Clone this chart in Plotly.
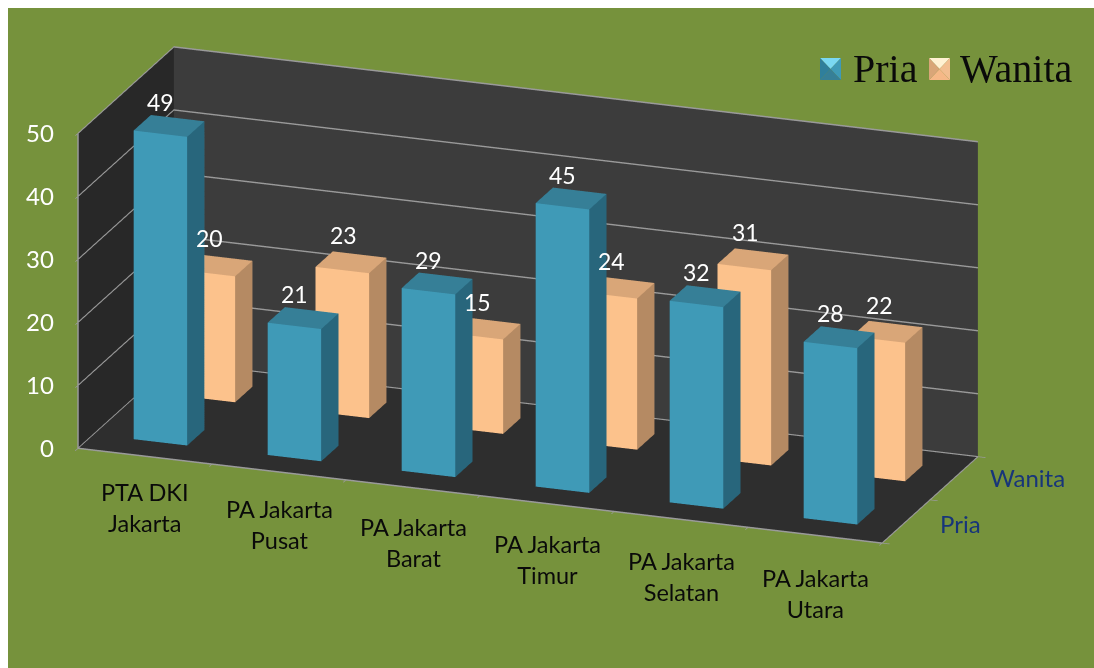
import plotly.graph_objects as go

categories = ["PTA DKI<br>Jakarta", "PA Jakarta<br>Pusat", "PA Jakarta<br>Barat",
              "PA Jakarta<br>Timur", "PA Jakarta<br>Selatan", "PA Jakarta<br>Utara"]
series_names = ["Pria", "Wanita"]
pria = [49, 21, 29, 45, 32, 28]
wanita = [20, 23, 15, 24, 31, 22]
z_ticks = [0, 10, 20, 30, 40, 50]

BAR_W = 0.40
BAR_D = 0.36
GREEN = "#76923C"
FONT = "Lato"
FIG_W, FIG_H = 1086, 660


def box(ix, iy, h, front, side, top, name):
    x0, x1 = ix - BAR_W / 2, ix + BAR_W / 2
    y0, y1 = iy - BAR_D / 2, iy + BAR_D / 2
    xs = [x0, x1, x1, x0, x0, x1, x1, x0]
    ys = [y0, y0, y1, y1, y0, y0, y1, y1]
    zs = [0, 0, 0, 0, h, h, h, h]
    i = [0, 0, 1, 1, 4, 4, 3, 3, 0, 0, 2, 2]
    j = [1, 5, 2, 6, 5, 6, 0, 4, 1, 2, 3, 7]
    k = [5, 4, 6, 5, 6, 7, 4, 7, 2, 3, 7, 6]
    fc = [front, front, side, side, top, top, side, side, side, side, front, front]
    return go.Mesh3d(x=xs, y=ys, z=zs, i=i, j=j, k=k, facecolor=fc, flatshading=True,
                     lighting=dict(ambient=1, diffuse=0, specular=0, fresnel=0, roughness=1),
                     hoverinfo="skip", showlegend=False, name=name)


fig = go.Figure()
styles = [("#3F9AB7", "#28667C", "#367F97"), ("#FCC28C", "#B58A63", "#D9A678")]
for iy, (vals, st) in enumerate(zip([pria, wanita], styles)):
    for ix, v in enumerate(vals):
        fig.add_trace(box(ix, iy, v, *st, series_names[iy]))

ann = []
for ix, name in enumerate(categories):
    ann.append(dict(x=ix, y=-0.5, z=0, text=name, showarrow=False, yanchor="top", yshift=-20 - 1.3 * ix,
                    font=dict(family=FONT, size=23.5, color="#0a0a0a")))
label_shift = [(-9, 8), (-8, 11)]
for iy, vals in enumerate([pria, wanita]):
    for ix, v in enumerate(vals):
        ann.append(dict(x=ix, y=iy, z=v, text=str(v), showarrow=False, yanchor="bottom",
                        xshift=label_shift[iy][0], yshift=label_shift[iy][1],
                        font=dict(family=FONT, size=23, color="white")))
y_label_shift = [(32, -2), (34, 1)]
for iy, nm in enumerate(series_names):
    ann.append(dict(x=5.5, y=iy, z=0, text=nm, showarrow=False, xanchor="left",
                    xshift=y_label_shift[iy][0], yshift=y_label_shift[iy][1],
                    font=dict(family=FONT, size=24, color="#17357A")))
for t in z_ticks:
    ann.append(dict(x=-0.5, y=-0.5, z=t, text=str(t), showarrow=False, xanchor="right", xshift=-22, yshift=1,
                    font=dict(family=FONT, size=24, color="white")))


# legend: bevelled keys and serif labels, as in the reference
def px(v):
    return (v - 8) / FIG_W


def py(v):
    return 1 - (v - 8) / FIG_H


shapes = []
page_ann = []
legend_items = [(820, 851, "Pria", ("#7AD8F2", "#3F9AB7", "#367F97", "#2F7F9C")),
                (929, 958, "Wanita", ("#FFF1D2", "#F2BE90", "#F5B887", "#D9A678"))]
for left, text_x, nm, (c_top, c_right, c_bottom, c_left) in legend_items:
    l, r, t, b = px(left), px(left + 21), py(58), py(80)
    mx, my = (l + r) / 2, (t + b) / 2
    tris = [(c_top, [(l, t), (r, t)]), (c_right, [(r, t), (r, b)]),
            (c_bottom, [(r, b), (l, b)]), (c_left, [(l, b), (l, t)])]
    for col, ((xa, ya), (xb, yb)) in tris:
        shapes.append(dict(type="path", xref="paper", yref="paper", fillcolor=col, line=dict(width=0),
                           path=f"M {xa} {ya} L {xb} {yb} L {mx} {my} Z"))
    page_ann.append(dict(xref="paper", yref="paper", x=px(text_x), y=py(68), xanchor="left", yanchor="middle",
                         text=nm, showarrow=False,
                         font=dict(family="Liberation Serif", size=40, color="#0a0a0a")))

axis_common = dict(title="", showspikes=False, zeroline=False, showline=True, linecolor="#9a9a9a",
                   linewidth=3, ticks="outside", tickcolor="#9a9a9a", ticklen=8, tickwidth=2,
                   showticklabels=True, tickfont=dict(size=1, color=GREEN))
x_ticks = [-0.5, 0.5, 1.5, 2.5, 3.5, 4.5, 5.5]
y_ticks = [-0.5, 0.5, 1.5]
fig.update_layout(
    width=FIG_W, height=FIG_H, margin=dict(l=0, r=0, t=0, b=0),
    paper_bgcolor=GREEN, showlegend=False, shapes=shapes, annotations=page_ann,
    scene=dict(
        domain=dict(x=[0, 0.958], y=[0.1331, 0.9971]),
        aspectmode="manual", aspectratio=dict(x=3.0, y=0.989, z=1.169),
        camera=dict(eye=dict(x=0.3215 * 1.9, y=-0.889 * 1.9, z=0.326 * 1.9), up=dict(x=0, y=0, z=1),
                    center=dict(x=0, y=0, z=0), projection=dict(type="orthographic")),
        xaxis=dict(range=[-0.5, 5.5], tickvals=x_ticks, ticktext=[" "] * len(x_ticks), showgrid=False,
                   showbackground=True, backgroundcolor="#282828", **axis_common),
        yaxis=dict(range=[-0.5, 1.5], tickvals=y_ticks, ticktext=[" "] * len(y_ticks), showgrid=False,
                   showbackground=True, backgroundcolor="#3C3C3C", **axis_common),
        zaxis=dict(range=[0, 50], tickvals=z_ticks, ticktext=[" "] * len(z_ticks), showgrid=True,
                   gridcolor="#9a9a9a", gridwidth=3,
                   showbackground=True, backgroundcolor="#2E2E2E", **axis_common),
        annotations=ann,
    ),
)
fig.write_html("out.html", default_width=f"{FIG_W}px", default_height=f"{FIG_H}px",
               post_script="document.documentElement.style.overflow='hidden';document.body.style.width='1086px';document.body.style.overflow='visible';")
